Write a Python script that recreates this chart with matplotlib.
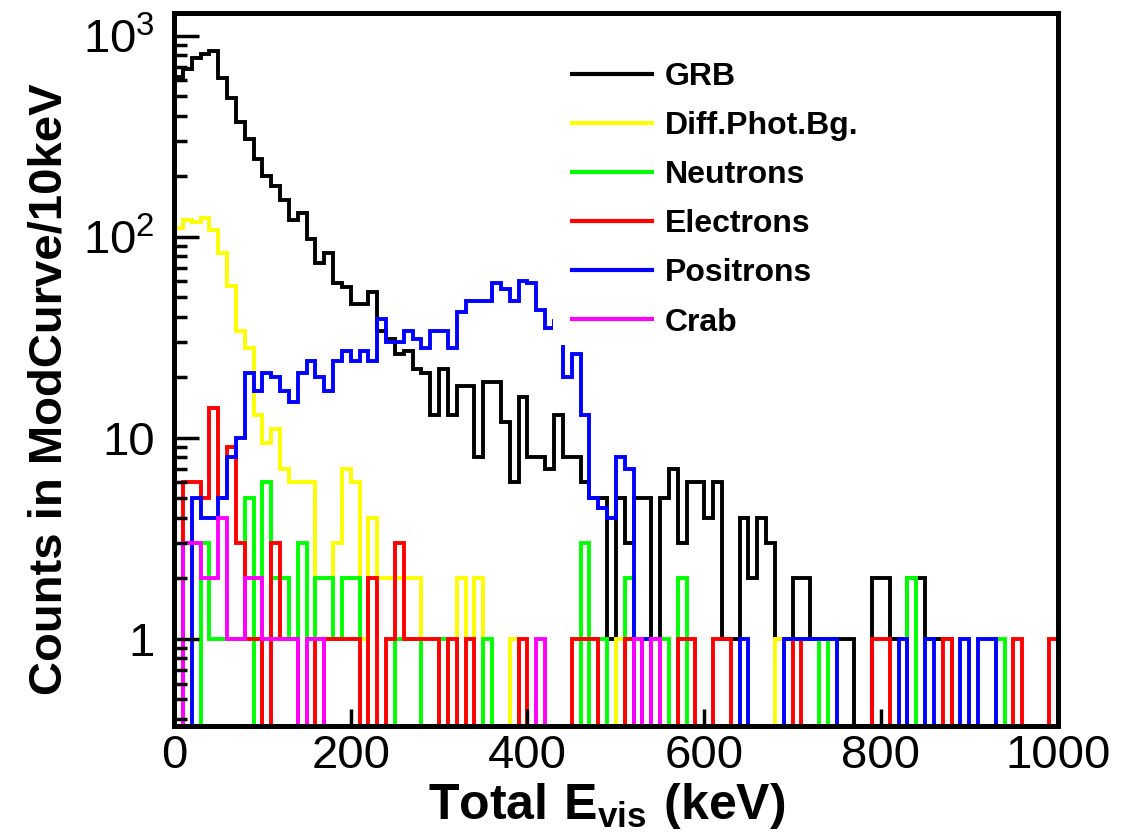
import numpy as np
import matplotlib.pyplot as plt
from matplotlib.patches import Rectangle
from matplotlib.ticker import FixedLocator, FixedFormatter, NullFormatter

plt.rcParams['font.family'] = ['Liberation Sans', 'DejaVu Sans']
plt.rcParams['mathtext.fontset'] = 'custom'
plt.rcParams['mathtext.rm'] = 'Liberation Sans'
plt.rcParams['mathtext.bf'] = 'Liberation Sans:bold'

# 10 keV bins from 0 to 1000 keV
bin_edges = np.arange(0, 1010, 10)

grb = [620, 685, 775, 805, 835, 615, 490, 370, 305, 242,
       200, 178, 153, 121, 131, 97, 74, 83, 59, 56,
       46, 46, 53, 34, 31, 26, 27, 22, 21, 13,
       22, 13, 18, 18, 8, 19, 19, 12, 6, 16,
       8, 8, 7, 13, 8, 8, 6, 5, 5, 1,
       5, 3, 5, 5, 1, 5, 7, 3, 6, 6,
       4, 6, 1, 1, 4, 2, 4, 3, 1, 1,
       2, 2, 1, 1, 1, 1, 1, 0, 0, 2,
       2, 1, 1, 2, 2, 1, 1, 1, 0, 0,
       0, 0, 0, 0, 0, 0, 0, 0, 0, 0]

diff_phot_bg = [110, 121, 118, 124, 108, 83, 57, 34, 28, 13,
                9.4, 11, 7, 6, 6, 6, 1, 1, 3, 7,
                6, 1, 4, 2, 2, 2, 2, 2, 0, 0,
                0, 0, 2, 1, 2, 0, 0, 0, 1, 0,
                0, 0, 0, 0, 0, 0, 0, 0, 0, 0,
                1, 0, 0, 0, 0, 0, 0, 0, 0, 0,
                0, 0, 0, 0, 0, 0, 0, 0, 1, 0,
                0, 0, 0, 0, 0, 0, 0, 0, 0, 0,
                0, 0, 0, 0, 0, 0, 0, 0, 0, 0,
                0, 0, 0, 0, 0, 0, 0, 0, 0, 0]

neutrons = [0, 0, 0, 3, 1, 1, 1, 1, 5, 0,
            6, 2, 2, 1, 3, 1, 2, 2, 1, 2,
            2, 0, 0, 0, 0, 1, 1, 1, 0, 0,
            1, 0, 0, 0, 0, 1, 0, 0, 0, 0,
            0, 0, 0, 0, 0, 0, 3, 0, 1, 0,
            0, 2, 0, 0, 0, 1, 0, 2, 0, 0,
            0, 0, 0, 0, 0, 0, 0, 0, 0, 0,
            0, 0, 0, 1, 0, 0, 0, 0, 0, 0,
            0, 0, 0, 2, 0, 0, 0, 0, 0, 0,
            0, 0, 0, 1, 0, 0, 0, 0, 0, 0]

electrons = [0, 6, 6, 5, 14, 5, 9, 3, 1, 1,
             0, 3, 1, 1, 0, 1, 0, 1, 1, 1,
             1, 0, 2, 0, 1, 3, 1, 1, 1, 1,
             0, 1, 0, 1, 0, 0, 0, 0, 0, 1,
             0, 0, 0, 0, 0, 1, 1, 1, 0, 0,
             0, 1, 0, 0, 0, 0, 0, 1, 1, 0,
             0, 1, 1, 0, 0, 0, 0, 0, 0, 0,
             1, 0, 0, 0, 0, 0, 0, 0, 0, 1,
             1, 0, 0, 0, 0, 0, 0, 1, 0, 0,
             0, 0, 0, 0, 0, 1, 0, 0, 0, 1]

positrons = [0, 0, 5, 4, 4, 5, 8, 10, 21, 17,
             21, 20, 17, 15, 21, 24, 20, 17, 24, 27,
             24, 27, 24, 39, 30, 30, 34, 31, 28, 34,
             34, 28, 42, 48, 48, 48, 59, 55, 48, 60,
             59, 43, 35, 38, 20, 26, 13, 5, 4.5, 4,
             8, 7, 0, 1, 0, 0, 0, 0, 0, 0,
             0, 0, 0, 0, 1, 0, 0, 0, 0, 1,
             1, 1, 1, 1, 1, 0, 0, 0, 0, 0,
             0, 0, 1, 0, 0, 1, 0, 0, 0, 1,
             0, 1, 1, 0, 0, 0, 0, 0, 0, 0]

crab = [0, 3, 3, 2, 2, 4, 1, 1, 2, 2,
        1, 1, 1, 1, 0, 1, 1, 0, 0, 0,
        0, 0, 0, 0, 0, 0, 0, 0, 0, 0,
        0, 0, 0, 0, 0, 0, 0, 0, 0, 0,
        0, 1, 0, 0, 0, 0, 0, 0, 0, 0,
        0, 0, 1, 0, 1, 0, 0, 0, 0, 0,
        0, 0, 0, 0, 0, 0, 0, 0, 0, 0,
        0, 0, 0, 0, 0, 0, 0, 0, 0, 0,
        0, 0, 0, 0, 0, 0, 0, 0, 0, 0,
        0, 0, 0, 0, 0, 0, 0, 0, 0, 0]

series = [
    ("GRB", grb, "#000000"),
    ("Diff.Phot.Bg.", diff_phot_bg, "#ffff00"),
    ("Neutrons", neutrons, "#00ff00"),
    ("Electrons", electrons, "#ff0000"),
    ("Positrons", positrons, "#0000ff"),
    ("Crab", crab, "#ff00ff"),
]

fig = plt.figure(figsize=(11.3, 8.4), dpi=100)
ax = fig.add_axes([0.154, 0.136, 0.782, 0.849])

handles = []
for name, counts, color in series:
    counts = np.asarray(counts, dtype=float)
    # empty bins drop below the frame, like ROOT does on a log axis
    shown = np.where(counts > 0, counts, 1e-3)
    ax.stairs(shown, bin_edges, baseline=1e-3, color=color, lw=2.8)
    h, = ax.plot([], [], color=color, lw=3.0, label=name)
    handles.append(h)

ax.set_yscale('log')
ax.set_xlim(0, 1000)
ax.set_ylim(0.37, 1300)

for side in ['left', 'right', 'top', 'bottom']:
    ax.spines[side].set_linewidth(3.6)

ax.set_xticks([0, 200, 400, 600, 800, 1000])
ax.set_xticklabels(['0', '200', '400', '600', '800', '1000'])
ax.tick_params(axis='x', which='major', direction='in', length=12, width=2.5,
               labelsize=34, pad=6, top=False)
ax.tick_params(axis='x', which='minor', bottom=False, top=False)

ax.yaxis.set_major_locator(FixedLocator([1, 10, 100, 1000]))
ax.yaxis.set_major_formatter(FixedFormatter(['1', '10', r'$\mathregular{10^{2}}$',
                                             r'$\mathregular{10^{3}}$']))
minor = [m * 10.0 ** e for e in range(-1, 3) for m in range(2, 10)]
minor = [v for v in minor if 0.37 < v < 1300]
ax.yaxis.set_minor_locator(FixedLocator(minor))
ax.yaxis.set_minor_formatter(NullFormatter())
ax.tick_params(axis='y', which='major', direction='in', length=18, width=2.5,
               labelsize=34, pad=14, right=False)
ax.tick_params(axis='y', which='minor', direction='in', length=9.5, width=2.5,
               right=False)

ax.set_ylabel('Counts in ModCurve/10keV', fontsize=34, fontweight='bold')
ax.yaxis.set_label_coords(-0.116, 0.472)
ax.text(0.49, -0.131, r'$\mathbf{Total\ E_{vis}\ (keV)}$', transform=ax.transAxes,
        fontsize=36, ha='center', va='baseline')

# white legend pad, it covers the histograms behind it
ax.add_patch(Rectangle((0.4287, 0.534), 0.52, 0.43, transform=ax.transAxes,
                       facecolor='white', edgecolor='none', zorder=4))
leg = ax.legend(handles=handles, loc='upper left', bbox_to_anchor=(0.429, 0.958),
                prop={'weight': 'bold', 'size': 23},
                handlelength=2.5, handletextpad=0.4, labelspacing=0.6,
                borderpad=0.6, borderaxespad=0, frameon=False)
leg.set_zorder(5)

fig.savefig('out.png', dpi=100)
